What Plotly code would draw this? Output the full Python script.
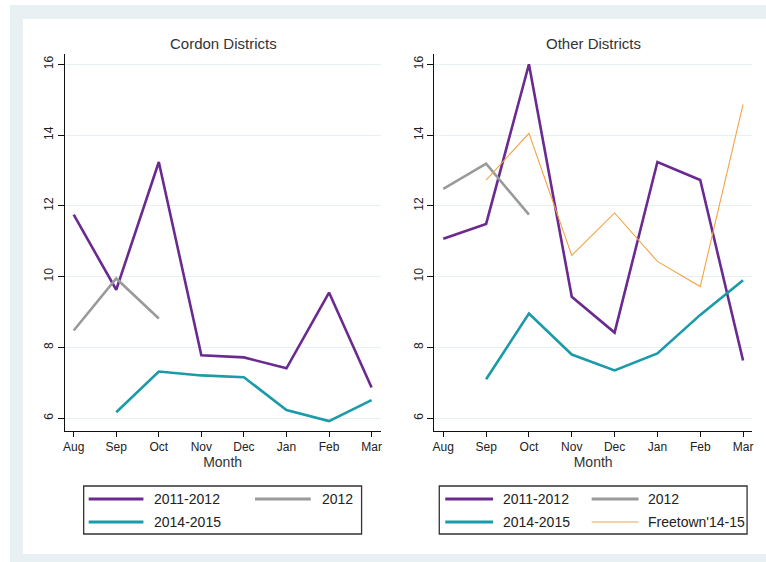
import plotly.graph_objects as go

W, H = 766, 562

months = ["Aug", "Sep", "Oct", "Nov", "Dec", "Jan", "Feb", "Mar"]

# Cordon Districts
cordon_2011_2012 = [11.75, 9.63, 13.24, 7.78, 7.72, 7.41, 9.55, 6.87]
cordon_2012 = [8.48, 9.95, 8.82, None, None, None, None, None]
cordon_2014_2015 = [None, 6.17, 7.32, 7.21, 7.16, 6.23, 5.92, 6.51]

# Other Districts
other_2011_2012 = [11.07, 11.49, 16.0, 9.43, 8.42, 13.24, 12.73, 7.63]
other_2012 = [12.48, 13.19, 11.75, None, None, None, None, None]
other_2014_2015 = [None, 7.10, 8.96, 7.80, 7.35, 7.83, 8.92, 9.90]
freetown_14_15 = [None, 12.73, 14.05, 10.60, 11.80, 10.43, 9.72, 14.87]

yticks = [6, 8, 10, 12, 14, 16]

PURPLE = "#6a2a90"
GRAY = "#9a9a9a"
TEAL = "#1a9ba7"
ORANGE = "#f2a444"
FONT = "Arial, Liberation Sans, sans-serif"

def px(x):
    return x / W

def py(y):
    return 1 - y / H

fig = go.Figure()

def add(x, y, color, width, name, xa, ya):
    fig.add_trace(go.Scatter(x=x, y=y, mode="lines", name=name,
                             line=dict(color=color, width=width),
                             xaxis=xa, yaxis=ya, showlegend=False))

add(months, cordon_2011_2012, PURPLE, 2.6, "2011-2012", "x", "y")
add(months, cordon_2012, GRAY, 2.6, "2012", "x", "y")
add(months, cordon_2014_2015, TEAL, 2.6, "2014-2015", "x", "y")

add(months, other_2011_2012, PURPLE, 2.6, "2011-2012", "x2", "y2")
add(months, other_2012, GRAY, 2.6, "2012", "x2", "y2")
add(months, other_2014_2015, TEAL, 2.6, "2014-2015", "x2", "y2")
add(months, freetown_14_15, ORANGE, 1.1, "Freetown'14-15", "x2", "y2")

ydom = [py(431), py(54)]
xaxis_common = dict(
    type="category", categoryorder="array", categoryarray=months,
    range=[-0.21, 7.21], showline=True, linecolor="#111", linewidth=1,
    ticks="outside", ticklen=5, tickcolor="#111", showgrid=False, zeroline=False,
    tickfont=dict(family=FONT, size=12, color="#222"),
    title=dict(text="Month", font=dict(family=FONT, size=14, color="#333"), standoff=2),
)
yaxis_common = dict(
    range=[5.64, 16.29], tickvals=yticks, showline=True, linecolor="#111", linewidth=1,
    ticks="outside", ticklen=6, tickcolor="#111", showgrid=True, gridcolor="#e6eff1",
    gridwidth=1, zeroline=False, tickangle=-90,
    tickfont=dict(family=FONT, size=12, color="#222"), domain=ydom,
)

fig.update_layout(
    width=W, height=H,
    margin=dict(l=0, r=0, t=0, b=0),
    paper_bgcolor="white", plot_bgcolor="rgba(0,0,0,0)",
    xaxis=dict(domain=[px(63), px(380)], anchor="y", **xaxis_common),
    yaxis=dict(anchor="x", **yaxis_common),
    xaxis2=dict(domain=[px(434), px(753)], anchor="y2", **xaxis_common),
    yaxis2=dict(anchor="x2", **yaxis_common),
    showlegend=False,
)

shapes = [
    dict(type="rect", xref="paper", yref="paper", x0=px(8), x1=px(770), y0=py(566), y1=py(5),
         fillcolor="#e8f0f3", line=dict(width=0), layer="below"),
    dict(type="rect", xref="paper", yref="paper", x0=px(21), x1=px(770), y0=py(554), y1=py(19),
         fillcolor="white", line=dict(width=0), layer="below"),
]
annotations = [
    dict(text="Cordon Districts", x=px(222), y=py(43), xref="paper", yref="paper",
         xanchor="center", yanchor="middle",
         showarrow=False, font=dict(family=FONT, size=15, color="#333")),
    dict(text="Other Districts", x=px(594), y=py(43), xref="paper", yref="paper",
         xanchor="center", yanchor="middle",
         showarrow=False, font=dict(family=FONT, size=15, color="#333")),
]

def legend_box(x0, x1, entries):
    shapes.append(dict(type="rect", xref="paper", yref="paper", x0=px(x0), x1=px(x1),
                       y0=py(534), y1=py(486), line=dict(color="#333", width=1.3),
                       fillcolor="white", layer="above"))
    for (lx0, lx1, tx, yy, color, width, label) in entries:
        shapes.append(dict(type="line", xref="paper", yref="paper", x0=px(lx0), x1=px(lx1),
                           y0=py(yy), y1=py(yy), line=dict(color=color, width=width)))
        annotations.append(dict(text=label, x=px(tx), y=py(yy), xref="paper", yref="paper",
                                xanchor="left", yanchor="middle", showarrow=False,
                                font=dict(family=FONT, size=14, color="#222")))

legend_box(82, 361, [
    (87, 142, 151, 499, PURPLE, 3, "2011-2012"),
    (254, 310, 319, 499, GRAY, 3, "2012"),
    (87, 142, 151, 522, TEAL, 3, "2014-2015"),
])
legend_box(439, 748, [
    (445, 493, 501, 499, PURPLE, 3, "2011-2012"),
    (592, 639, 647, 499, GRAY, 3, "2012"),
    (445, 493, 501, 522, TEAL, 3, "2014-2015"),
    (592, 639, 647, 522, ORANGE, 1.2, "Freetown'14-15"),
])

fig.update_layout(shapes=shapes, annotations=annotations)
fig.write_html("out.html")
